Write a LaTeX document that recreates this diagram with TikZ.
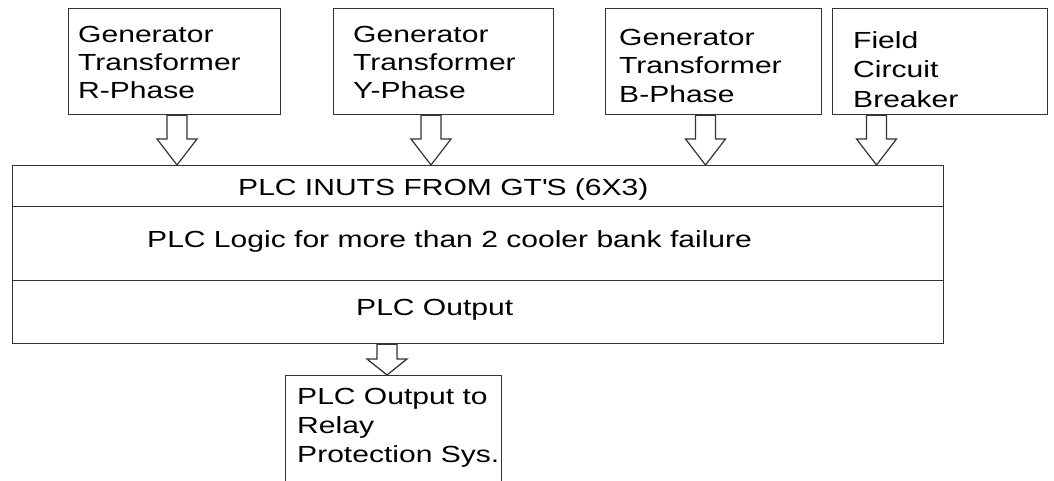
\documentclass[tikz,border=0pt]{standalone}
\usepackage{fontspec}
\setmainfont{Liberation Sans}[FakeStretch=1.29]
\usetikzlibrary{calc}
\newcommand\blkarrow[3]{%
  \draw[blk] ($(#1)+(-10,0)$) -- ($(#2)+(-10,-#3)$) -- ($(#2)+(-20,-#3)$) -- (#2)
    -- ($(#2)+(20,-#3)$) -- ($(#2)+(10,-#3)$) -- ($(#1)+(10,0)$) -- cycle;}
\begin{document}
\begin{tikzpicture}[x=1pt,y=-1pt,
  box/.style={draw=black!80, line width=1.3pt, inner sep=0pt, anchor=north west},
  txt/.style={inner sep=0pt, anchor=base west, align=left, font=\fontsize{23.3}{28}\selectfont},
  blk/.style={draw=black!80, line width=1.2pt, fill=white, line join=miter}
]
\useasboundingbox (0,0) rectangle (1054,480);
\fill[white] (0,0) rectangle (1054,480);
\clip (0,0) rectangle (1054,480);

% top boxes
\node[box, minimum width=212, minimum height=106] (gr) at (68,8) {};
\node[box, minimum width=220, minimum height=106] (gy) at (333,8) {};
\node[box, minimum width=216, minimum height=106] (gb) at (605,8) {};
\node[box, minimum width=215, minimum height=106] (fc) at (832,8) {};

% main PLC block
\node[box, minimum width=931, minimum height=41] (inp) at (12,165) {};
\node[box, minimum width=931, minimum height=74] (logic) at (12,206) {};
\node[box, minimum width=931, minimum height=63] (outp) at (12,280) {};

% output box
\node[box, minimum width=216, minimum height=106] (relay) at (285,375) {};

% texts (anchor = baseline of the last line)
\node[txt] (grt) at (78,98) {Generator\\Transformer\\R-Phase};
\node[txt] (gyt) at (353,98) {Generator\\Transformer\\Y-Phase};
\node[txt, font=\fontsize{23.3}{28.5}\selectfont] (gbt) at (619,102) {Generator\\Transformer\\B-Phase};
\node[txt, font=\fontsize{23.3}{29.5}\selectfont] (fct) at (853,107) {Field\\Circuit\\Breaker};
\node[txt] (inpt) at (238,195) {PLC INUTS FROM GT\textquotesingle S (6X3)};
\node[txt] (logict) at (147,247) {PLC Logic for more than 2 cooler bank failure};
\node[txt] (outpt) at (356,315) {PLC Output};
\node[txt, font=\fontsize{23.3}{29}\selectfont] (relayt) at (297,462) {PLC Output to\\Relay\\Protection Sys.};

% arrows
\path ($(gr.south west)+(109,0)$) coordinate (ra);
\coordinate (rb) at (ra |- inp.north);
\path ($(gy.south west)+(98,0)$) coordinate (ya);
\coordinate (yb) at (ya |- inp.north);
\path ($(gb.south west)+(100.5,0)$) coordinate (ba);
\coordinate (bb) at (ba |- inp.north);
\path ($(fc.south west)+(44.5,0)$) coordinate (fa);
\coordinate (fb) at (fa |- inp.north);
\path ($(outp.south west)+(375,0)$) coordinate (oa);
\coordinate (ob) at (oa |- relay.north);

\blkarrow{ra}{rb}{26}
\blkarrow{ya}{yb}{26}
\blkarrow{ba}{bb}{26}
\blkarrow{fa}{fb}{26}
\blkarrow{oa}{ob}{16}
\end{tikzpicture}
\end{document}
